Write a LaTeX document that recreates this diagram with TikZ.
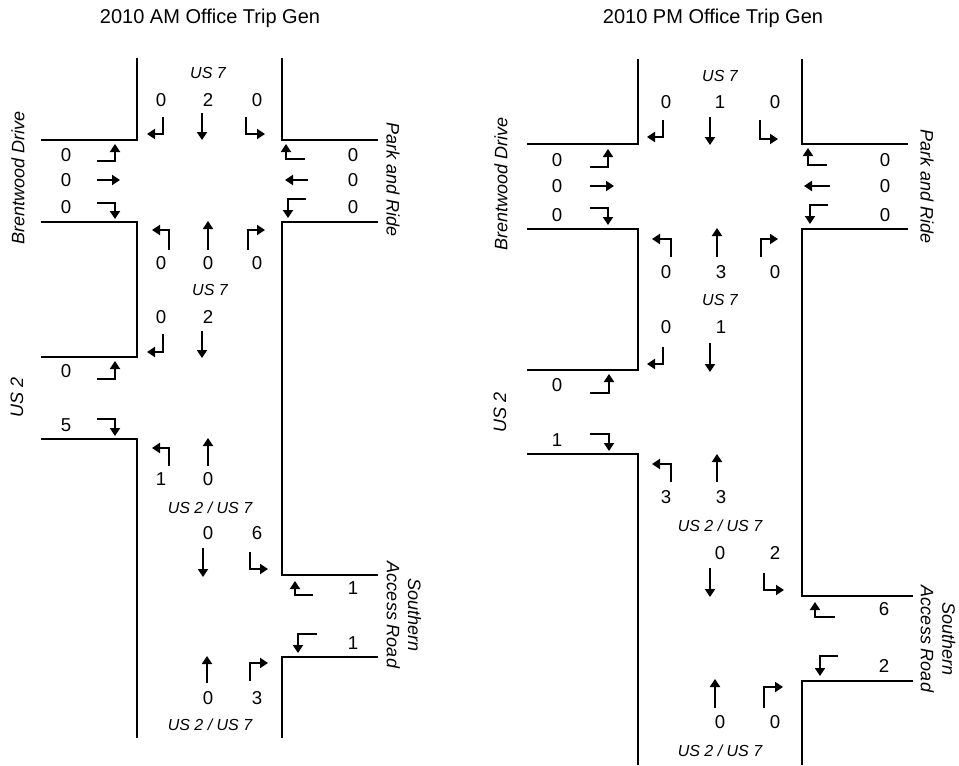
\documentclass[tikz,border=0pt]{standalone}
\usepackage{fontspec}
\setmainfont{Liberation Sans}
\usetikzlibrary{arrows.meta}
\tikzset{
  road/.style={line width=1.5pt},
  arr/.style={line width=1.9pt,-{Triangle[length=6pt,width=7.5pt]}},
  num/.style={inner sep=0pt,font=\fontsize{14}{16}\selectfont},
  rname/.style={inner sep=0pt,font=\fontsize{13.5}{16}\selectfont\itshape},
  lbl/.style={inner sep=0pt,font=\fontsize{12}{14}\selectfont\itshape},
  ttl/.style={inner sep=0pt,font=\fontsize{15}{18}\selectfont}
}
\begin{document}
\begin{tikzpicture}[x=0.75pt,y=-0.75pt]
\useasboundingbox (0,0) rectangle (959,765);
% ================= AM =================
\node[ttl] (tA) at (210,18) {2010 AM Office Trip Gen};
\draw[road] (137,58) -- (137,140) -- (41,140);
\draw[road] (282,58) -- (282,140) -- (378,140);
\draw[road] (41,222) -- (137,222) -- (137,357) -- (41,357);
\draw[road] (41,439) -- (137,439) -- (137,738);
\draw[road] (378,222) -- (282,222) -- (282,575) -- (378,575);
\draw[road] (378,657) -- (282,657) -- (282,738);
\node[lbl] (a1) at (208,73) {US 7};
\node[num] (a2) at (161,100) {0};
\node[num] (a3) at (208,100) {2};
\node[num] (a4) at (257,100) {0};
\draw[arr] (163,117) |- (147,134);
\draw[arr] (202,113) -- (202,140);
\draw[arr] (246,117) |- (265,134);
\node[num] (a5) at (66,155) {0};
\node[num] (a6) at (66,180) {0};
\node[num] (a7) at (66,207) {0};
\draw[arr] (97,161) -| (115,144);
\draw[arr] (97,180) -- (120,180);
\draw[arr] (97,203) -| (115,219);
\node[num] (a8) at (353,155) {0};
\node[num] (a9) at (353,180) {0};
\node[num] (a10) at (353,207) {0};
\draw[arr] (305,159) -| (286,144);
\draw[arr] (308,180) -- (285,180);
\draw[arr] (306,199) -| (288,218);
\draw[arr] (169,250) |- (152,230);
\draw[arr] (208,250) -- (208,221);
\draw[arr] (248,250) |- (265,230);
\node[num] (a11) at (161,263) {0};
\node[num] (a12) at (208,263) {0};
\node[num] (a13) at (257,263) {0};
\node[lbl] (a14) at (210,290) {US 7};
\node[num] (a15) at (161,317) {0};
\node[num] (a16) at (208,317) {2};
\draw[arr] (163,334) |- (147,352);
\draw[arr] (202,331) -- (202,358);
\node[num] (a17) at (66,371) {0};
\draw[arr] (97,379) -| (115,361);
\node[rname,rotate=90] (a18) at (17,397) {US 2};
\node[num] (a19) at (66,425) {5};
\draw[arr] (97,419) -| (115,436);
\draw[arr] (169,466) |- (152,448);
\draw[arr] (208,466) -- (208,438);
\node[num] (a20) at (161,479) {1};
\node[num] (a21) at (208,479) {0};
\node[lbl] (a22) at (210,508) {US 2 / US 7};
\node[num] (a23) at (208,533) {0};
\node[num] (a24) at (257,533) {6};
\draw[arr] (203,548) -- (203,577);
\draw[arr] (250,552) |- (268,569);
\node[num] (a25) at (353,588) {1};
\draw[arr] (313,595) -| (295,581);
\node[num] (a26) at (353,643) {1};
\draw[arr] (317,634) -| (298,653);
\draw[arr] (207,683) -- (207,656);
\draw[arr] (250,681) |- (268,663);
\node[num] (a27) at (208,698) {0};
\node[num] (a28) at (257,698) {3};
\node[lbl] (a29) at (210,725) {US 2 / US 7};
\node[rname,rotate=90] (a30) at (18,178) {Brentwood Drive};
\node[rname,rotate=-90] (a31) at (393,180) {Park and Ride};
\node[rname,rotate=-90,align=center] (a32) at (404,615) {Southern\\Access Road};
% ================= PM =================
\node[ttl] (tB) at (713,18) {2010 PM Office Trip Gen};
\draw[road] (638,59) -- (638,144) -- (527,144);
\draw[road] (802,59) -- (802,144) -- (908,144);
\draw[road] (527,229) -- (638,229) -- (638,370) -- (527,370);
\draw[road] (527,454) -- (638,454) -- (638,765);
\draw[road] (908,229) -- (802,229) -- (802,596) -- (913,596);
\draw[road] (913,681) -- (802,681) -- (802,765);
\node[lbl] (b1) at (720,76) {US 7};
\node[num] (b2) at (666,102) {0};
\node[num] (b3) at (720,102) {1};
\node[num] (b4) at (775,102) {0};
\draw[arr] (663,120) |- (647,137);
\draw[arr] (710,117) -- (710,145);
\draw[arr] (760,120) |- (778,139);
\node[num] (b5) at (557,160) {0};
\node[num] (b6) at (557,186) {0};
\node[num] (b7) at (557,215) {0};
\draw[arr] (590,167) -| (608,149);
\draw[arr] (590,186) -- (614,186);
\draw[arr] (590,208) -| (608,225);
\node[num] (b8) at (885,160) {0};
\node[num] (b9) at (885,186) {0};
\node[num] (b10) at (885,215) {0};
\draw[arr] (827,165) -| (808,148);
\draw[arr] (830,186) -- (804,186);
\draw[arr] (828,205) -| (810,224);
\draw[arr] (671,257) |- (652,239);
\draw[arr] (717,257) -- (717,228);
\draw[arr] (761,257) |- (778,239);
\node[num] (b11) at (666,272) {0};
\node[num] (b12) at (721,272) {3};
\node[num] (b13) at (775,272) {0};
\node[lbl] (b14) at (720,300) {US 7};
\node[num] (b15) at (666,327) {0};
\node[num] (b16) at (721,327) {1};
\draw[arr] (663,347) |- (647,364);
\draw[arr] (710,343) -- (710,372);
\node[num] (b17) at (557,385) {0};
\draw[arr] (590,393) -| (609,374);
\node[rname,rotate=90] (b18) at (500,412) {US 2};
\node[num] (b19) at (557,440) {1};
\draw[arr] (590,434) -| (609,451);
\draw[arr] (671,482) |- (652,464);
\draw[arr] (717,482) -- (717,454);
\node[num] (b20) at (666,497) {3};
\node[num] (b21) at (721,497) {3};
\node[lbl] (b22) at (720,526) {US 2 / US 7};
\node[num] (b23) at (720,553) {0};
\node[num] (b24) at (775,553) {2};
\draw[arr] (710,568) -- (710,597);
\draw[arr] (764,573) |- (784,590);
\node[num] (b25) at (884,609) {6};
\draw[arr] (835,617) -| (815,602);
\node[num] (b26) at (884,666) {2};
\draw[arr] (838,656) -| (820,676);
\draw[arr] (715,708) -- (715,679);
\draw[arr] (764,708) |- (783,687);
\node[num] (b27) at (720,722) {0};
\node[num] (b28) at (775,722) {0};
\node[lbl] (b29) at (720,751) {US 2 / US 7};
\node[rname,rotate=90] (b30) at (501,184) {Brentwood Drive};
\node[rname,rotate=-90] (b31) at (927,187) {Park and Ride};
\node[rname,rotate=-90,align=center] (b32) at (938,639) {Southern\\Access Road};
\end{tikzpicture}
\end{document}
